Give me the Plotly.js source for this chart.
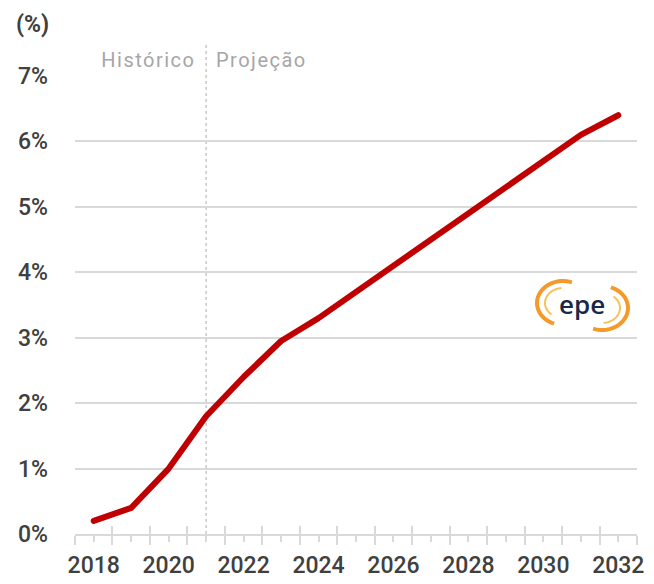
<!DOCTYPE html>
<html>
<head>
<meta charset="utf-8">
<script src="https://cdn.plot.ly/plotly-3.0.1.min.js"></script>
<style>
  body { margin: 0; background: #fff; }
  .scatterlayer .js-line { stroke-linecap: round; stroke-linejoin: round; }
  .annotation[data-index="1"] text, .annotation[data-index="2"] text { letter-spacing: 1.5px; }
</style>
</head>
<body>
<div id="chart"></div>
<script>
// data
const years = [2018, 2019, 2020, 2021, 2022, 2023, 2024, 2025, 2026, 2027, 2028, 2029, 2030, 2031, 2032];
const values = [0.2, 0.4, 1.0, 1.8, 2.4, 2.95, 3.3, 3.7, 4.1, 4.5, 4.9, 5.3, 5.7, 6.1, 6.4];
const yTicks = [0, 1, 2, 3, 4, 5, 6, 7];
const yTickText = ['0%', '1%', '2%', '3%', '4%', '5%', '6%', '7%'];
const xTickText = ['2018', '', '2020', '', '2022', '', '2024', '', '2026', '', '2028', '', '2030', '', '2032'];
const halfYears = [2017.5, 2018.5, 2019.5, 2020.5, 2021.5, 2022.5, 2023.5, 2024.5, 2025.5, 2026.5, 2027.5, 2028.5, 2029.5, 2030.5, 2031.5, 2032.5];
const splitYear = 2021;

const W = 654, H = 584;
const M = {l: 75, r: 17, t: 76, b: 50};
const grey = '#d9d9d9';
const textCol = '#404040';
const font = 'Roboto, "Open Sans", sans-serif';

// pixel -> paper helpers (for the logo only)
function px(x) { return (x - M.l) / (W - M.l - M.r); }
function py(y) { return (H - M.b - y) / (H - M.t - M.b); }

function arcPath(cx, cy, rx, ry, a0, a1) {
    let pts = [];
    for (let i = 0; i <= 30; i++) {
        let a = (a0 + (a1 - a0) * i / 30) * Math.PI / 180;
        pts.push(px(cx + rx * Math.cos(a)).toFixed(4) + ',' + py(cy - ry * Math.sin(a)).toFixed(4));
    }
    return 'M' + pts.join('L');
}

let trace = {
    x: years,
    y: values,
    mode: 'lines',
    line: {color: '#c00000', width: 6},
    hoverinfo: 'skip'
};

// empty trace so the overlay axis (upper half of the tall ticks) is drawn
let tickTrace = {x: [], y: [], xaxis: 'x2', mode: 'lines', hoverinfo: 'skip'};

let logoShapes = [
    {type: 'path', xref: 'paper', yref: 'paper', path: arcPath(563, 303, 26, 22, 70, 250), line: {color: '#f39a2b', width: 4}},
    {type: 'path', xref: 'paper', yref: 'paper', path: arcPath(563, 303, 18, 15, 95, 230), line: {color: '#f8c15a', width: 2}},
    {type: 'path', xref: 'paper', yref: 'paper', path: arcPath(602, 308, 26, 22, -110, 70), line: {color: '#f39a2b', width: 4}},
    {type: 'path', xref: 'paper', yref: 'paper', path: arcPath(602, 308, 18, 15, -85, 50), line: {color: '#f8c15a', width: 2}}
];

let layout = {
    width: W,
    height: H,
    margin: M,
    paper_bgcolor: '#fff',
    plot_bgcolor: '#fff',
    showlegend: false,
    font: {family: font, color: textCol},
    xaxis: {
        range: [2017.5, 2032.5],
        tickmode: 'array',
        tickvals: years,
        ticktext: xTickText,
        ticks: 'outside',
        ticklen: 6,
        tickwidth: 2,
        tickcolor: grey,
        ticklabelstandoff: 3,
        minor: {tickmode: 'array', tickvals: halfYears, ticks: 'outside', ticklen: 9, tickwidth: 2, tickcolor: grey},
        showgrid: false,
        zeroline: false,
        showline: true,
        linecolor: grey,
        linewidth: 2,
        tickfont: {size: 23, color: textCol, weight: 500},
        fixedrange: true
    },
    xaxis2: {
        overlaying: 'x',
        anchor: 'y',
        side: 'bottom',
        range: [2017.5, 2032.5],
        tickmode: 'array',
        tickvals: halfYears,
        ticks: 'inside',
        ticklen: 8,
        tickwidth: 2,
        tickcolor: grey,
        showticklabels: false,
        showgrid: false,
        zeroline: false,
        showline: false
    },
    yaxis: {
        range: [0, 7],
        tickmode: 'array',
        tickvals: yTicks,
        ticktext: yTickText,
        showgrid: true,
        gridcolor: grey,
        gridwidth: 2,
        zeroline: false,
        showline: false,
        ticks: '',
        ticklabelstandoff: 26,
        tickfont: {size: 23, color: textCol, weight: 500},
        fixedrange: true
    },
    shapes: [
        {type: 'line', xref: 'x', yref: 'paper', x0: splitYear, x1: splitYear, y0: 0, y1: 1.072,
         line: {color: '#c8c8c8', width: 1.5, dash: 'dot'}, layer: 'below'}
    ].concat(logoShapes),
    annotations: [
        {text: '<b>(%)</b>', xref: 'paper', yref: 'paper', x: px(14), y: py(25), xanchor: 'left', yanchor: 'middle',
         showarrow: false, font: {size: 23, color: textCol}},
        // letter-spacing (css) widens these around their centre, so the shifts make up for it
        {text: 'Histórico', xref: 'x', yref: 'paper', x: splitYear, y: py(60), xanchor: 'right', yanchor: 'middle',
         xshift: -15, showarrow: false, font: {size: 20, color: '#a6a6a6'}},
        {text: 'Projeção', xref: 'x', yref: 'paper', x: splitYear, y: py(60), xanchor: 'left', yanchor: 'middle',
         xshift: 14, showarrow: false, font: {size: 20, color: '#a6a6a6'}},
        {text: 'epe', xref: 'paper', yref: 'paper', x: px(582), y: py(304), xanchor: 'center', yanchor: 'middle',
         showarrow: false, font: {size: 26, color: '#1a2847', weight: 600, family: '"Open Sans", sans-serif'}}
    ]
};

Plotly.newPlot('chart', [trace, tickTrace], layout, {displayModeBar: false, staticPlot: true});
</script>
</body>
</html>
